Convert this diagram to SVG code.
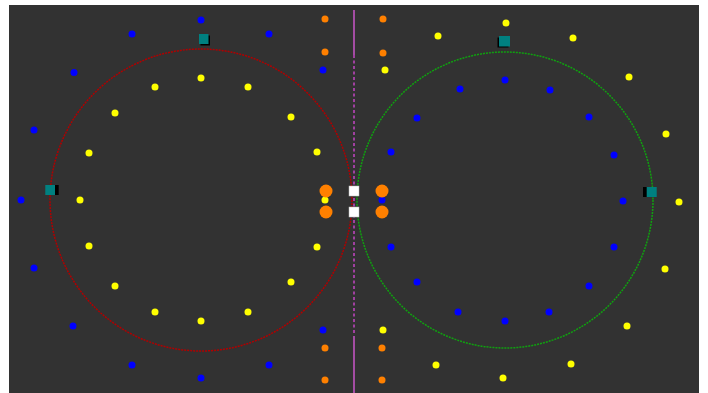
<svg xmlns="http://www.w3.org/2000/svg" width="708" height="393" viewBox="0 0 708 393">
<style>
.b{fill:#0000ff}
.y{fill:#ffff00}
.o{fill:#ff8000}
.w{fill:#ffffff;stroke:#bbbbbb;stroke-width:0.5}
.t{fill:#008080}
.s{fill:#000000}
</style>
<rect x="0" y="0" width="708" height="393" fill="#ffffff"/>
<rect x="9" y="5" width="690" height="388" fill="#323232"/>
<g id="connectors">
<circle cx="201" cy="200" r="151" fill="none" stroke="#b00000" stroke-width="1.5" stroke-dasharray="2,1"/>
<circle cx="505" cy="200" r="148" fill="none" stroke="#10a010" stroke-width="1.5" stroke-dasharray="2,1"/>
<line x1="354" y1="10" x2="354" y2="55" stroke="#b050b0" stroke-width="1.8"/>
<line x1="354" y1="55" x2="354" y2="335" stroke="#a040a0" stroke-width="2" stroke-dasharray="3,2.5"/>
<line x1="354" y1="336" x2="354" y2="393" stroke="#b050b0" stroke-width="1.8"/>
</g>
<g id="left-blue">
<circle class="b" cx="201" cy="20" r="3.5"/><circle class="b" cx="132" cy="34" r="3.5"/><circle class="b" cx="269" cy="34" r="3.5"/>
<circle class="b" cx="74" cy="72.5" r="3.5"/><circle class="b" cx="323" cy="70" r="3.5"/><circle class="b" cx="34" cy="130" r="3.5"/>
<circle class="b" cx="21" cy="200" r="3.5"/><circle class="b" cx="34" cy="268" r="3.5"/><circle class="b" cx="73" cy="326" r="3.5"/>
<circle class="b" cx="132" cy="365" r="3.5"/><circle class="b" cx="201" cy="378" r="3.5"/><circle class="b" cx="269" cy="365" r="3.5"/>
<circle class="b" cx="323" cy="330" r="3.5"/><circle class="b" cx="382" cy="200" r="3.5"/>
</g>
<g id="left-yellow">
<circle class="y" cx="201" cy="78" r="3.5"/><circle class="y" cx="155" cy="87" r="3.5"/><circle class="y" cx="248" cy="87" r="3.5"/>
<circle class="y" cx="115" cy="113" r="3.5"/><circle class="y" cx="291" cy="117" r="3.5"/><circle class="y" cx="89" cy="153" r="3.5"/>
<circle class="y" cx="317" cy="152" r="3.5"/><circle class="y" cx="80" cy="200" r="3.5"/><circle class="y" cx="89" cy="246" r="3.5"/>
<circle class="y" cx="317" cy="247" r="3.5"/><circle class="y" cx="115" cy="286" r="3.5"/><circle class="y" cx="291" cy="282" r="3.5"/>
<circle class="y" cx="155" cy="312" r="3.5"/><circle class="y" cx="201" cy="321" r="3.5"/><circle class="y" cx="248" cy="312" r="3.5"/>
<circle class="y" cx="325" cy="200" r="3.5"/>
</g>
<g id="right-blue">
<circle class="b" cx="505" cy="80" r="3.5"/><circle class="b" cx="460" cy="89" r="3.5"/><circle class="b" cx="550" cy="90" r="3.5"/>
<circle class="b" cx="417" cy="118" r="3.5"/><circle class="b" cx="589" cy="117" r="3.5"/><circle class="b" cx="391" cy="152" r="3.5"/>
<circle class="b" cx="614" cy="155" r="3.5"/><circle class="b" cx="623" cy="201" r="3.5"/><circle class="b" cx="391" cy="247" r="3.5"/>
<circle class="b" cx="614" cy="247" r="3.5"/><circle class="b" cx="417" cy="282" r="3.5"/><circle class="b" cx="589" cy="286" r="3.5"/>
<circle class="b" cx="458" cy="312" r="3.5"/><circle class="b" cx="505" cy="321" r="3.5"/><circle class="b" cx="549" cy="312" r="3.5"/>
</g>
<g id="right-yellow">
<circle class="y" cx="506" cy="23" r="3.5"/><circle class="y" cx="438" cy="36" r="3.5"/><circle class="y" cx="573" cy="38" r="3.5"/>
<circle class="y" cx="385" cy="70" r="3.5"/><circle class="y" cx="629" cy="77" r="3.5"/><circle class="y" cx="666" cy="134" r="3.5"/>
<circle class="y" cx="679" cy="202" r="3.5"/><circle class="y" cx="665" cy="269" r="3.5"/><circle class="y" cx="627" cy="326" r="3.5"/>
<circle class="y" cx="571" cy="364" r="3.5"/><circle class="y" cx="503" cy="378" r="3.5"/><circle class="y" cx="436" cy="365" r="3.5"/>
<circle class="y" cx="383" cy="330" r="3.5"/>
</g>
<g id="orange">
<circle class="o" cx="325" cy="19" r="3.5"/><circle class="o" cx="383" cy="19" r="3.5"/><circle class="o" cx="325" cy="52" r="3.5"/><circle class="o" cx="383" cy="53" r="3.5"/>
<circle class="o" cx="325" cy="348" r="3.5"/><circle class="o" cx="382" cy="348" r="3.5"/><circle class="o" cx="325" cy="380" r="3.5"/><circle class="o" cx="382" cy="380" r="3.5"/>
<circle class="o" cx="326" cy="191" r="6.5"/><circle class="o" cx="382" cy="191" r="6.5"/><circle class="o" cx="326" cy="212" r="6.5"/><circle class="o" cx="382" cy="212" r="6.5"/>
</g>
<g id="white-squares">
<rect class="w" x="349" y="186" width="10" height="10"/>
<rect class="w" x="349" y="207" width="10" height="10"/>
</g>
<g id="teal-top-left"><rect class="s" x="200.5" y="35.5" width="9.5" height="10"/><rect class="t" x="199" y="34" width="9.5" height="10"/></g>
<g id="teal-top-right"><rect class="s" x="497.5" y="37.5" width="11" height="10"/><rect class="t" x="499" y="36" width="11" height="10.5"/></g>
<g id="teal-left"><rect class="s" x="55" y="185" width="3.7" height="10"/><rect class="t" x="45.3" y="185" width="9.7" height="10"/></g>
<g id="teal-right"><rect class="s" x="643" y="187" width="4" height="10"/><rect class="t" x="646.7" y="187" width="10" height="10"/></g>
</svg>
